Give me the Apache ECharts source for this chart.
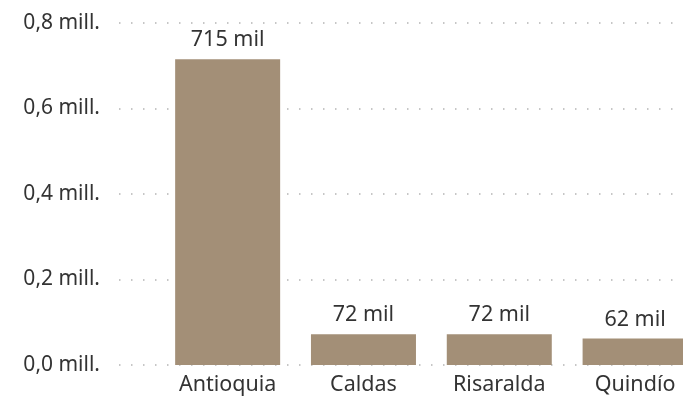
<!DOCTYPE html>
<html>
<head>
<meta charset="utf-8">
<script src="https://cdn.jsdelivr.net/npm/echarts@6/dist/echarts.min.js"></script>
<style>
  html, body { margin: 0; padding: 0; background: #fff; }
  #chart { width: 683px; height: 404px; }
</style>
</head>
<body>
<div id="chart"></div>
<script>
var categories = ['Antioquia', 'Caldas', 'Risaralda', 'Quindío'];
var values = [715000, 72000, 72000, 62000];
var yTicks = [0, 200000, 400000, 600000, 800000];

var font = "'Noto Sans', 'Open Sans', sans-serif";

var myChart = echarts.init(document.getElementById('chart'));
myChart.setOption({
    animation: false,
    grid: { left: 119, width: 584, top: 23, bottom: 39, containLabel: false, outerBoundsMode: 'none' },
    xAxis: {
        type: 'value',
        min: -0.8,
        max: 3.5,
        axisLine: { show: false },
        axisTick: { show: false },
        splitLine: { show: false },
        axisLabel: {
            customValues: [0, 1, 2, 3],
            formatter: function (v) { return categories[Math.round(v)] || ''; },
            color: '#333',
            fontSize: 21.5,
            fontFamily: font,
            margin: 9,
            hideOverlap: false
        }
    },
    yAxis: {
        type: 'value',
        min: yTicks[0],
        max: yTicks[yTicks.length - 1],
        interval: 200000,
        axisLine: { show: false },
        axisTick: { show: false },
        axisLabel: {
            formatter: function (v) { return (v / 1e6).toFixed(1).replace('.', ',') + ' mill.'; },
            color: '#333',
            fontSize: 21,
            fontFamily: font,
            margin: 19
        },
        splitLine: {
            lineStyle: { color: '#b4b4b4', width: 1.5, type: [1.5, 10.5] }
        }
    },
    series: [{
        type: 'bar',
        data: values.map(function (v, i) { return [i, v]; }),
        barWidth: 105,
        itemStyle: { color: '#A38F77' },
        label: {
            show: true,
            position: 'top',
            distance: 8,
            formatter: function (p) { return Math.round(p.value[1] / 1000) + ' mil'; },
            color: '#333',
            fontSize: 21.5,
            fontFamily: font
        }
    }]
});
window.addEventListener('resize', function () {
    myChart.resize();
});
</script>
</body>
</html>
